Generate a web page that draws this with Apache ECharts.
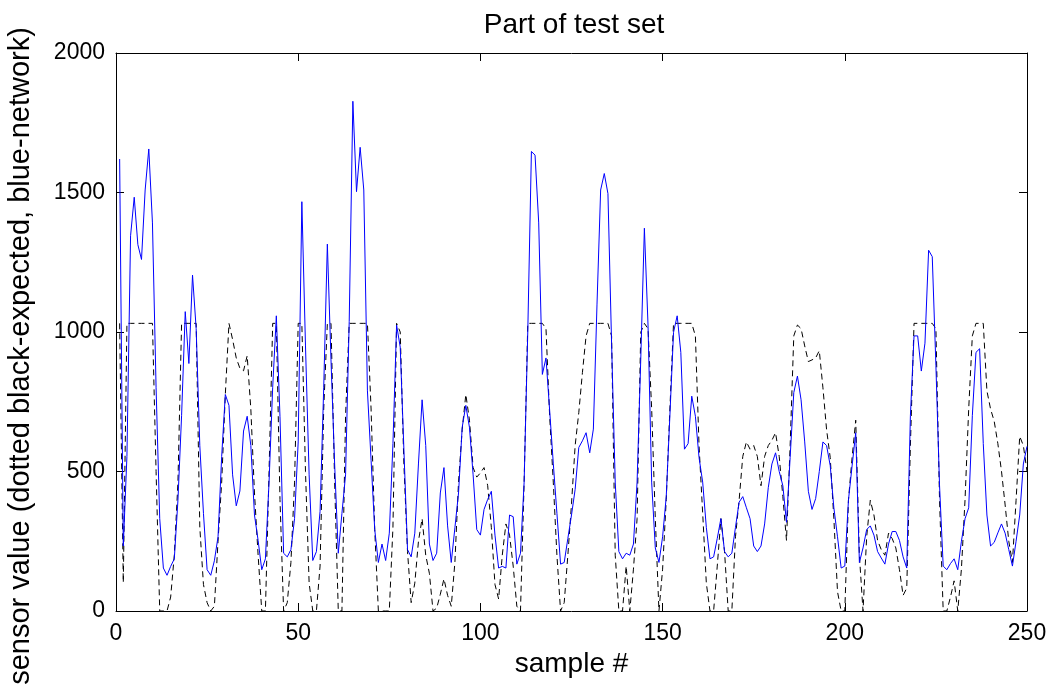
<!DOCTYPE html>
<html>
<head>
<meta charset="utf-8">
<script src="https://cdn.jsdelivr.net/npm/echarts@6/dist/echarts.min.js"></script>
<style>
  html, body { margin: 0; padding: 0; background: #fff; }
  #chart { width: 1055px; height: 691px; }
</style>
</head>
<body>
<div id="chart"></div>
<script>
// Sample numbers run 1..250 (one value per sample)
const network = [
  1620, 233, 554, 1345, 1483, 1313, 1260, 1509, 1656, 1391,
  800, 331, 154, 128, 160, 187, 397, 700, 1073, 887,
  1204, 1012, 593, 350, 148, 128, 180, 266, 554, 776,
  737, 488, 377, 430, 645, 698, 593, 344, 253, 148,
  187, 462, 802, 1058, 698, 207, 194, 220, 331, 606,
  1467, 950, 488, 181, 213, 357, 800, 1315, 900, 527,
  207, 350, 488, 1038, 1827, 1503, 1662, 1509, 789, 540,
  292, 174, 240, 181, 279, 600, 1025, 946, 580, 220,
  194, 279, 527, 757, 593, 240, 181, 207, 423, 514,
  305, 174, 298, 423, 658, 737, 658, 488, 292, 272,
  364, 400, 429, 272, 154, 160, 154, 344, 338, 168,
  207, 462, 1000, 1647, 1634, 1391, 848, 907, 720, 530,
  350, 168, 174, 260, 344, 436, 586, 610, 639, 567,
  652, 1100, 1509, 1568, 1496, 959, 462, 213, 187, 207,
  200, 240, 462, 900, 1372, 1025, 462, 226, 174, 266,
  410, 700, 999, 1058, 927, 580, 600, 770, 698, 550,
  462, 300, 187, 194, 260, 331, 213, 194, 207, 300,
  390, 410, 370, 331, 233, 213, 233, 312, 442, 527,
  567, 500, 449, 318, 550, 783, 842, 757, 606, 429,
  364, 403, 500, 606, 593, 521, 370, 266, 154, 161,
  397, 520, 639, 174, 226, 292, 305, 272, 213, 190,
  168, 240, 285, 285, 253, 194, 154, 700, 986, 986,
  860, 960, 1293, 1270, 881, 450, 161, 148, 170, 187,
  148, 250, 331, 370, 700, 927, 940, 600, 344, 233,
  246, 280, 312, 279, 220, 161, 250, 344, 527, 590
];
const expected = [
  1031, 102, 1031, 1031, 1031, 1031, 1031, 1031, 1031, 1031,
  500, 0, 0, 0, 50, 200, 462, 1031, 1031, 1031,
  1031, 1031, 300, 95, 30, 0, 17, 250, 462, 776,
  1031, 973, 907, 870, 861, 915, 724, 423, 200, 0,
  0, 500, 1031, 1031, 400, 0, 30, 174, 462, 1031,
  1031, 500, 100, 0, 0, 161, 724, 1031, 1031, 462,
  0, 0, 700, 1031, 1031, 1031, 1031, 1031, 1031, 724,
  292, 0, 0, 0, 0, 300, 1031, 1000, 527, 213,
  30, 100, 250, 331, 200, 135, 0, 10, 60, 115,
  56, 17, 174, 462, 650, 776, 684, 514, 480, 495,
  514, 449, 300, 95, 43, 200, 312, 272, 161, 17,
  0, 462, 1031, 1031, 1031, 1031, 1031, 1012, 700, 462,
  200, 0, 30, 200, 384, 593, 711, 855, 986, 1031,
  1031, 1031, 1031, 1031, 1031, 986, 200, 0, 0, 161,
  0, 150, 331, 999, 1031, 1012, 724, 331, 0, 150,
  400, 724, 1031, 1031, 1031, 1031, 1031, 1031, 986, 593,
  350, 100, 0, 0, 161, 331, 213, 0, 0, 266,
  397, 554, 606, 580, 593, 554, 449, 554, 593, 612,
  639, 554, 410, 253, 593, 986, 1025, 1012, 950, 894,
  900, 907, 933, 800, 650, 550, 331, 69, 0, 0,
  397, 550, 684, 200, 0, 266, 397, 344, 253, 220,
  200, 279, 260, 226, 148, 56, 82, 593, 1031, 1031,
  1031, 1031, 1031, 1031, 1012, 397, 0, 0, 50, 108,
  0, 150, 400, 724, 986, 1031, 1031, 1031, 789, 724,
  680, 600, 501, 380, 250, 174, 397, 626, 593, 501
];
const xTicks = [0, 50, 100, 150, 200, 250];
const yTicks = [0, 500, 1000, 1500, 2000];
const yLabel = 'sensor value (dotted black-expected, blue-network)';

const FONT = '"Liberation Sans", Arial, Helvetica, sans-serif';
const toPairs = arr => arr.map((v, i) => [i + 1, v]);

const chart = echarts.init(document.getElementById('chart'), null, { renderer: 'canvas' });

const axisCommon = {
  axisLine: { show: true, onZero: false, lineStyle: { color: '#000', width: 1 } },
  axisTick: { show: true, inside: true, length: 8, lineStyle: { color: '#000', width: 1 } },
  splitLine: { show: false },
  minorTick: { show: false }
};
const plainNum = v => String(v);

chart.setOption({
  backgroundColor: '#fff',
  animation: false,
  title: {
    text: 'Part of test set',
    left: 569, top: 6, textAlign: 'center',
    textStyle: { fontFamily: FONT, fontSize: 28, fontWeight: 'normal', color: '#000' }
  },
  graphic: [{
    type: 'text',
    x: 21, y: 356,
    rotation: Math.PI / 2,
    style: {
      text: yLabel,
      fontFamily: FONT, fontSize: 29, fill: '#000',
      textAlign: 'center', textVerticalAlign: 'middle'
    }
  }],
  grid: { left: 116, right: 28, top: 53, bottom: 80 },
  xAxis: [
    Object.assign({
      type: 'value', min: xTicks[0], max: xTicks[xTicks.length - 1], interval: 50,
      position: 'bottom',
      name: 'sample #', nameLocation: 'middle', nameGap: 38,
      nameTextStyle: { fontFamily: FONT, fontSize: 28, color: '#000' },
      axisLabel: { show: true, margin: 11, color: '#000', fontFamily: FONT, fontSize: 23, formatter: plainNum }
    }, axisCommon),
    Object.assign({
      type: 'value', min: xTicks[0], max: xTicks[xTicks.length - 1], interval: 50,
      position: 'top', axisLabel: { show: false }
    }, axisCommon)
  ],
  yAxis: [
    Object.assign({
      type: 'value', min: yTicks[0], max: yTicks[yTicks.length - 1], interval: 500,
      position: 'left',
      axisLabel: { show: true, margin: 11, color: '#000', fontFamily: FONT, fontSize: 23, formatter: plainNum }
    }, axisCommon),
    Object.assign({
      type: 'value', min: yTicks[0], max: yTicks[yTicks.length - 1], interval: 500,
      position: 'right', axisLabel: { show: false }
    }, axisCommon)
  ],
  series: [
    {
      name: 'expected', type: 'line', xAxisIndex: 0, yAxisIndex: 0,
      data: toPairs(expected), showSymbol: false, symbol: 'none',
      lineStyle: { color: '#000', width: 1, type: [6, 4] }, z: 2
    },
    {
      name: 'network', type: 'line', xAxisIndex: 0, yAxisIndex: 0,
      data: toPairs(network), showSymbol: false, symbol: 'none',
      lineStyle: { color: '#0000ff', width: 1 }, z: 3
    }
  ]
});
</script>
</body>
</html>
